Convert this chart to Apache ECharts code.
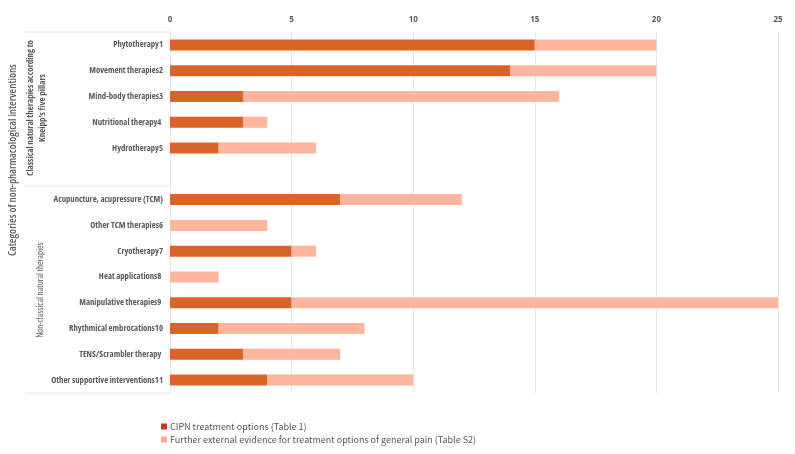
<!DOCTYPE html>
<html><head><meta charset="utf-8">
<script src="https://cdn.jsdelivr.net/npm/echarts@6/dist/echarts.min.js"></script>
<style>html,body{margin:0;padding:0;background:#fff}#c{width:795px;height:454px}</style>
</head><body><div id="c"></div>
<script>
const categories = ['Phytotherapy1','Movement therapies2','Mind-body therapies3','Nutritional therapy4 ','Hydrotherapy5','','Acupuncture, acupressure (TCM)','Other TCM therapies6','Cryotherapy7','Heat applications8 ','Manipulative therapies9 ','Rhythmical embrocations10','TENS/Scrambler therapy ','Other supportive interventions11'];
const cipn =    [15, 14, 3, 3, 2, null, 7, 0, 5, 0, 5, 2, 3, 4];
const further = [5, 6, 13, 1, 4, null, 5, 4, 1, 2, 20, 6, 4, 6];
const xTicks = [0, 5, 10, 15, 20, 25];
const seriesNames = ['CIPN treatment options (Table 1)', 'Further external evidence for treatment options of general pain (Table S2)'];

const chart = echarts.init(document.getElementById('c'));
const lineStyle = {stroke:'#e6e6e6', lineWidth:1};
chart.setOption({
  animation:false,
  grid:{left:170, right:17, top:32, bottom:61},
  xAxis:{type:'value', position:'top', min:xTicks[0], max:xTicks[xTicks.length-1], interval:5,
    axisLine:{show:false}, axisTick:{show:false},
    axisLabel:{color:'#595959', fontSize:8, fontWeight:'bold', fontFamily:'Open Sans', margin:8},
    splitLine:{lineStyle:{color:'#e8e8e8'}}},
  yAxis:{type:'category', data:categories, inverse:true,
    axisLine:{show:true, lineStyle:{color:'#e8e8e8'}}, axisTick:{show:false},
    axisLabel:{color:'#595959', fontSize:8.7, fontStyle:'condensed', fontWeight:'bold', fontFamily:'Open Sans', margin:7}},
  legend:{orient:'vertical', left:161, top:422, bottom:0, padding:0, itemWidth:6, itemHeight:6, itemGap:4, icon:'rect',
    textStyle:{color:'#555', fontSize:9, fontFamily:'Noto Sans CJK JP', padding:[0,0,0,-2]},
    data:[{name:seriesNames[0], itemStyle:{color:'#c8382a'}},{name:seriesNames[1], itemStyle:{color:'#ffab92'}}]},
  series:[
    {name:seriesNames[0], type:'bar', stack:'a', data:cipn, barWidth:11, itemStyle:{color:'#d96428'}},
    {name:seriesNames[1], type:'bar', stack:'a', data:further, barWidth:11, itemStyle:{color:'#ffb59e'}}
  ],
  graphic:[
    {type:'line', shape:{x1:25,y1:32,x2:170,y2:32}, style:lineStyle},
    {type:'line', shape:{x1:25,y1:186,x2:170,y2:186}, style:lineStyle},
    {type:'line', shape:{x1:25,y1:393,x2:170,y2:393}, style:lineStyle},
    {type:'text', x:13, y:160, rotation:Math.PI/2, style:{text:'Categories of non-pharmacological interventions', fill:'#595959', font:'condensed 600 10.8px "Open Sans"', align:'center', verticalAlign:'middle'}},
    {type:'text', x:36, y:108, rotation:Math.PI/2, style:{text:"Classical natural therapies according to\nKneipp's five pillars", fill:'#595959', font:'condensed bold 9px "Open Sans"', align:'center', verticalAlign:'middle', lineHeight:12}},
    {type:'text', x:40, y:290, rotation:Math.PI/2, style:{text:'Non-classical natural therapies', fill:'#595959', font:'condensed 9px "Open Sans"', align:'center', verticalAlign:'middle'}}
  ]
});
</script></body></html>
